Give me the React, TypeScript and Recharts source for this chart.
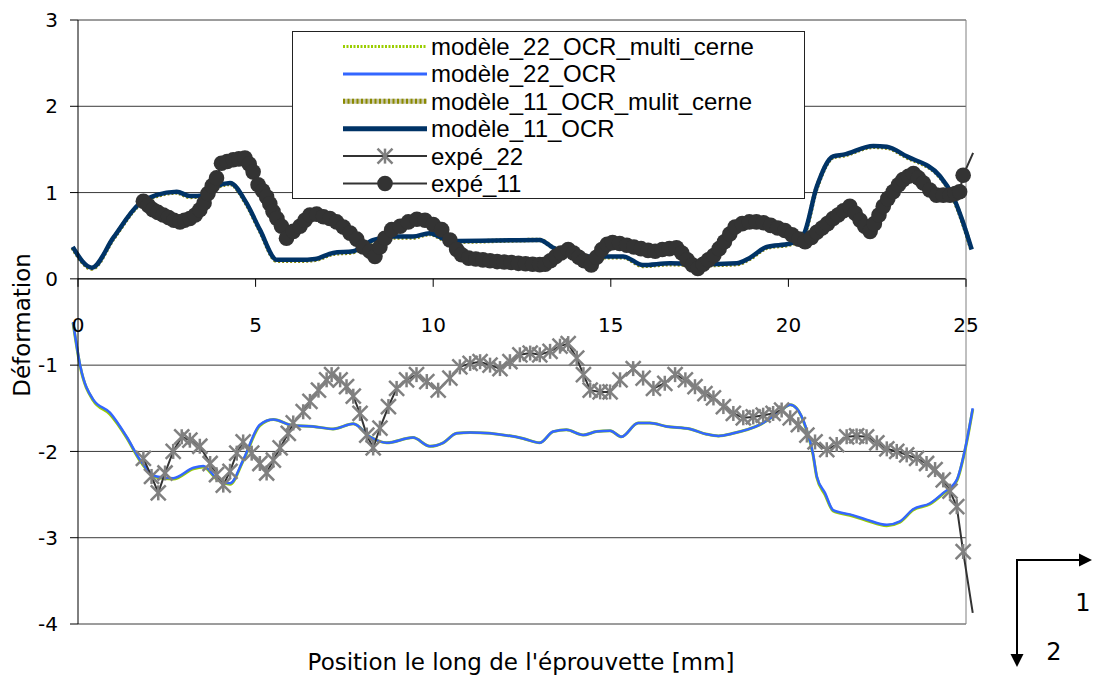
import React from 'react';
import { LineChart, Line, XAxis, YAxis, CartesianGrid, ReferenceLine, Legend, Customized } from 'recharts';

// ---------- data ----------
const xTicks = [0, 5, 10, 15, 20, 25];
const yTicks = [-4, -3, -2, -1, 0, 1, 2, 3];
const X_DOMAIN: [number, number] = [0, 25];
const Y_DOMAIN: [number, number] = [-4, 3];

const seriesNames = [
  'modèle_22_OCR_multi_cerne',
  'modèle_22_OCR',
  'modèle_11_OCR_mulit_cerne',
  'modèle_11_OCR',
  'expé_22',
  'expé_11',
];
const xTitle = "Position le long de l'éprouvette [mm]";
const yTitle = 'Déformation';
const dirLabels = ['1', '2'];

const modele22Multi: [number, number][] = [
  [-0.14, -0.51], [0.06, -1.01], [0.43, -1.41], [0.9, -1.57], [1.37, -1.84], [1.75, -2.11], [2.21, -2.30], [2.68, -2.32],
  [3.25, -2.20], [3.53, -2.18], [3.9, -2.32], [4.28, -2.38], [4.65, -2.11], [5.12, -1.70], [5.5, -1.63], [6.06, -1.70],
  [6.62, -1.71], [7.18, -1.74], [7.75, -1.68], [8.22, -1.83], [8.69, -1.90], [9.43, -1.84], [9.91, -1.94], [10.28, -1.90],
  [10.66, -1.79], [11.04, -1.78], [12.53, -1.85], [13.0, -1.90], [13.38, -1.77], [13.75, -1.75], [14.22, -1.81], [14.6, -1.77],
  [14.98, -1.76], [15.3, -1.83], [15.77, -1.67], [16.1, -1.67], [16.57, -1.71], [17.23, -1.74], [17.7, -1.80], [18.03, -1.82],
  [18.45, -1.79], [19.2, -1.69], [19.76, -1.54], [20.05, -1.46], [20.23, -1.50], [20.5, -1.74], [20.69, -2.03], [20.8, -2.30],
  [21.03, -2.50], [21.26, -2.69], [21.73, -2.74], [22.2, -2.80], [22.77, -2.86], [23.14, -2.82], [23.51, -2.68], [23.99, -2.61],
  [24.36, -2.49], [24.74, -2.34], [24.97, -1.99], [25.19, -1.51],
];

const modele22: [number, number][] = [
  [-0.14, -0.50], [0.06, -1.0], [0.43, -1.40], [0.9, -1.55], [1.37, -1.83], [1.75, -2.10], [2.21, -2.29], [2.68, -2.31],
  [3.25, -2.19], [3.53, -2.17], [3.9, -2.31], [4.28, -2.37], [4.65, -2.10], [5.12, -1.69], [5.5, -1.63], [6.06, -1.70],
  [6.62, -1.71], [7.18, -1.74], [7.75, -1.68], [8.22, -1.83], [8.69, -1.90], [9.43, -1.84], [9.91, -1.94], [10.28, -1.90],
  [10.66, -1.79], [11.04, -1.78], [12.53, -1.85], [13.0, -1.90], [13.38, -1.77], [13.75, -1.75], [14.22, -1.81], [14.6, -1.77],
  [14.98, -1.76], [15.3, -1.83], [15.77, -1.67], [16.1, -1.67], [16.57, -1.71], [17.23, -1.74], [17.7, -1.80], [18.03, -1.82],
  [18.45, -1.79], [19.2, -1.69], [19.76, -1.54], [20.05, -1.46], [20.23, -1.50], [20.5, -1.73], [20.69, -2.02], [20.8, -2.29],
  [21.03, -2.48], [21.26, -2.68], [21.73, -2.73], [22.2, -2.79], [22.77, -2.85], [23.14, -2.81], [23.51, -2.67], [23.99, -2.60],
  [24.36, -2.48], [24.74, -2.33], [24.97, -1.98], [25.19, -1.50],
];

const modele11Multi: [number, number][] = [
  [-0.15, 0.36], [0.39, 0.12], [1.0, 0.47], [1.7, 0.85], [2.2, 0.96], [2.78, 1.00], [3.15, 0.95], [3.58, 0.96],
  [3.9, 1.06], [4.28, 1.10], [4.74, 0.87], [5.12, 0.56], [5.6, 0.21], [6.25, 0.21], [6.67, 0.22], [7.18, 0.29],
  [7.75, 0.31], [8.3, 0.44], [8.87, 0.48], [9.43, 0.48], [9.9, 0.52], [10.47, 0.43], [13.0, 0.45], [13.38, 0.36],
  [14.4, 0.25], [15.35, 0.25], [15.9, 0.15], [16.67, 0.17], [17.5, 0.16], [18.54, 0.17], [18.9, 0.23], [19.39, 0.36],
  [20.05, 0.40], [20.42, 0.50], [20.8, 1.06], [21.26, 1.41], [21.55, 1.43], [22.39, 1.53], [22.77, 1.52], [23.33, 1.41],
  [24.27, 1.18], [24.64, 0.94], [24.92, 0.64], [25.16, 0.33],
];

const modele11: [number, number][] = [
  [-0.15, 0.37], [0.39, 0.13], [1.0, 0.48], [1.7, 0.86], [2.2, 0.97], [2.78, 1.01], [3.15, 0.96], [3.58, 0.97],
  [3.9, 1.07], [4.28, 1.11], [4.74, 0.88], [5.12, 0.57], [5.6, 0.22], [6.25, 0.22], [6.67, 0.23], [7.18, 0.30],
  [7.75, 0.32], [8.3, 0.45], [8.87, 0.49], [9.43, 0.49], [9.9, 0.53], [10.47, 0.44], [13.0, 0.45], [13.38, 0.36],
  [14.4, 0.26], [15.35, 0.26], [15.9, 0.16], [16.67, 0.18], [17.5, 0.17], [18.54, 0.18], [18.9, 0.24], [19.39, 0.37],
  [20.05, 0.41], [20.42, 0.51], [20.8, 1.07], [21.26, 1.42], [21.55, 1.44], [22.39, 1.54], [22.77, 1.53], [23.33, 1.42],
  [24.27, 1.19], [24.64, 0.95], [24.92, 0.65], [25.16, 0.34],
];

const expe22: [number, number][] = [
  [1.84, -2.08], [2.07, -2.29], [2.26, -2.48], [2.45, -2.25], [2.68, -2.0], [2.92, -1.83], [3.15, -1.87], [3.43, -1.94],
  [3.72, -2.14], [3.9, -2.27], [4.09, -2.39], [4.28, -2.23], [4.47, -2.02], [4.65, -1.89], [4.89, -2.02], [5.12, -2.14],
  [5.31, -2.25], [5.5, -2.10], [5.69, -1.96], [5.92, -1.79], [6.06, -1.67], [6.34, -1.54], [6.53, -1.42], [6.77, -1.29],
  [7.0, -1.17], [7.14, -1.11], [7.38, -1.17], [7.56, -1.25], [7.75, -1.36], [7.94, -1.56], [8.13, -1.81], [8.31, -1.96],
  [8.5, -1.73], [8.74, -1.48], [8.97, -1.27], [9.25, -1.17], [9.53, -1.11], [9.82, -1.19], [10.14, -1.29], [10.47, -1.15],
  [10.75, -1.02], [11.04, -0.98], [11.32, -0.96], [11.6, -1.0], [11.88, -1.04], [12.16, -0.96], [12.44, -0.88], [12.73, -0.86],
  [13.0, -0.88], [13.29, -0.84], [13.57, -0.78], [13.8, -0.75], [14.04, -0.92], [14.23, -1.11], [14.42, -1.29], [14.7, -1.31],
  [14.98, -1.31], [15.26, -1.17], [15.63, -1.04], [15.91, -1.15], [16.2, -1.27], [16.52, -1.21], [16.81, -1.11], [17.1, -1.17],
  [17.37, -1.25], [17.65, -1.33], [17.89, -1.38], [18.17, -1.48], [18.45, -1.56], [18.73, -1.61], [19.01, -1.60], [19.29, -1.58],
  [19.57, -1.56], [19.81, -1.52], [20.05, -1.61], [20.28, -1.69], [20.52, -1.81], [20.75, -1.89], [21.08, -1.98], [21.36, -1.92],
  [21.64, -1.83], [21.92, -1.82], [22.2, -1.83], [22.49, -1.90], [22.77, -1.97], [23.05, -2.0], [23.33, -2.04], [23.61, -2.08],
  [23.89, -2.14], [24.13, -2.21], [24.36, -2.33], [24.55, -2.46], [24.74, -2.64], [24.92, -3.16], [25.19, -3.87],
];

const expe11: [number, number][] = [
  [1.84, 0.90], [1.98, 0.85], [2.11, 0.80], [2.25, 0.77], [2.4, 0.74], [2.55, 0.71], [2.7, 0.68], [2.87, 0.66],
  [3.0, 0.68], [3.15, 0.70], [3.3, 0.74], [3.43, 0.80], [3.55, 0.88], [3.66, 0.99], [3.78, 1.08], [3.9, 1.17],
  [4.04, 1.34], [4.2, 1.36], [4.37, 1.38], [4.53, 1.39], [4.7, 1.40], [4.82, 1.33], [4.93, 1.24], [5.07, 1.09],
  [5.2, 1.02], [5.31, 0.95], [5.4, 0.87], [5.49, 0.78], [5.6, 0.70], [5.73, 0.61], [5.87, 0.47], [6.06, 0.55],
  [6.25, 0.61], [6.39, 0.68], [6.53, 0.74], [6.72, 0.75], [6.91, 0.72], [7.09, 0.70], [7.28, 0.66], [7.47, 0.60],
  [7.66, 0.53], [7.85, 0.46], [8.03, 0.37], [8.22, 0.32], [8.36, 0.26], [8.5, 0.37], [8.64, 0.47], [8.83, 0.57],
  [9.07, 0.61], [9.3, 0.66], [9.54, 0.69], [9.77, 0.68], [10.0, 0.63], [10.24, 0.57], [10.47, 0.45], [10.66, 0.34],
  [10.8, 0.28], [11.0, 0.24], [11.2, 0.23], [11.4, 0.22], [11.6, 0.21], [11.8, 0.20], [12.0, 0.195], [12.2, 0.19],
  [12.4, 0.18], [12.6, 0.175], [12.8, 0.17], [13.0, 0.165], [13.15, 0.17], [13.3, 0.21], [13.45, 0.26], [13.6, 0.30],
  [13.8, 0.34], [13.95, 0.30], [14.1, 0.25], [14.25, 0.21], [14.45, 0.16], [14.6, 0.25], [14.75, 0.34], [14.9, 0.40],
  [15.05, 0.42], [15.25, 0.41], [15.45, 0.39], [15.65, 0.37], [15.85, 0.35], [16.05, 0.33], [16.25, 0.32], [16.45, 0.34],
  [16.65, 0.35], [16.85, 0.36], [17.0, 0.30], [17.15, 0.22], [17.3, 0.16], [17.45, 0.12], [17.6, 0.17], [17.75, 0.22],
  [17.9, 0.27], [18.05, 0.35], [18.2, 0.43], [18.35, 0.52], [18.5, 0.60], [18.7, 0.64], [18.9, 0.66], [19.1, 0.66],
  [19.3, 0.65], [19.5, 0.62], [19.7, 0.59], [19.9, 0.56], [20.1, 0.51], [20.3, 0.46], [20.47, 0.43], [20.65, 0.48],
  [20.8, 0.54], [20.95, 0.59], [21.1, 0.64], [21.26, 0.70], [21.4, 0.74], [21.55, 0.79], [21.73, 0.84], [21.88, 0.76],
  [22.02, 0.68], [22.15, 0.61], [22.3, 0.55], [22.42, 0.64], [22.55, 0.74], [22.67, 0.84], [22.8, 0.93], [22.95, 1.01],
  [23.1, 1.09], [23.23, 1.15], [23.38, 1.19], [23.52, 1.22], [23.66, 1.17], [23.8, 1.11], [23.98, 1.03], [24.17, 0.97],
  [24.36, 0.97], [24.55, 0.97], [24.7, 0.99], [24.82, 1.01], [24.92, 1.20], [25.2, 1.46],
];

// ---------- layout / styles ----------
const W = 1093;
const H = 677;
const X_AXIS_H = 30;
const MARGIN = { top: 20, right: 127, bottom: 53 - X_AXIS_H, left: 18 };
const Y_AXIS_W = 60;
const PLOT_H = H - MARGIN.top - MARGIN.bottom - X_AXIS_H;
const ZERO_Y = MARGIN.top + (PLOT_H * (Y_DOMAIN[1] - 0)) / (Y_DOMAIN[1] - Y_DOMAIN[0]);
const AXIS_FONT = 'DejaVu Sans, Verdana, sans-serif';
const LEGEND_FONT = 'Liberation Sans, Arial, sans-serif';

const toPts = (arr: [number, number][]) => arr.map(([x, y]) => ({ x, y }));

const COLORS = {
  m22multi: '#9ACD00',
  m22: '#3366FF',
  m11multi: '#8A8A00',
  m11: '#003366',
  expLine: '#333333',
  star: '#808080',
  circle: '#333333',
};

const inRange = (v: number) => v >= X_DOMAIN[0] && v <= X_DOMAIN[1];

const StarDot = (props: any) => {
  const { cx, cy, payload, index } = props;
  if (!payload || !inRange(payload.x)) return <g key={`s${index}`} />;
  const s = 7.5;
  return (
    <g key={`s${index}`} stroke={COLORS.star} strokeWidth={2.5}>
      <line x1={cx - s} y1={cy - s} x2={cx + s} y2={cy + s} />
      <line x1={cx - s} y1={cy + s} x2={cx + s} y2={cy - s} />
      <line x1={cx} y1={cy - s} x2={cx} y2={cy + s} />
    </g>
  );
};

const CircleDot = (props: any) => {
  const { cx, cy, payload, index } = props;
  if (!payload || !inRange(payload.x)) return <g key={`c${index}`} />;
  return <circle key={`c${index}`} cx={cx} cy={cy} r={7.8} fill={COLORS.circle} />;
};

const XTick = (props: any) => {
  const { x, payload } = props;
  return (
    <g>
      <line x1={x} x2={x} y1={ZERO_Y} y2={ZERO_Y + 8} stroke="#000" strokeWidth={1} />
      <text x={x} y={ZERO_Y + 46} textAnchor="middle" dominantBaseline="central" fontFamily={AXIS_FONT} fontSize={20} fill="#000">
        {payload.value}
      </text>
    </g>
  );
};

const LegendBox = () => {
  const rowY = (i: number) => 15.5 + i * 27.4;
  const x1 = 51;
  const x2 = 135;
  const xm = (x1 + x2) / 2;
  return (
    <svg width={514} height={169} style={{ display: 'block' }}>
      <rect x={0.5} y={0.5} width={512} height={167} fill="#fff" stroke="#222" strokeWidth={1} />
      <line x1={x1} x2={x2} y1={rowY(0)} y2={rowY(0)} stroke={COLORS.m22multi} strokeWidth={3} strokeDasharray="2 1.5" />
      <line x1={x1} x2={x2} y1={rowY(1)} y2={rowY(1)} stroke={COLORS.m22} strokeWidth={3} />
      <line x1={x1} x2={x2} y1={rowY(2)} y2={rowY(2)} stroke="#C8C8A8" strokeWidth={5} />
      <line x1={x1} x2={x2} y1={rowY(2)} y2={rowY(2)} stroke={COLORS.m11multi} strokeWidth={5} strokeDasharray="2 2.5" />
      <line x1={x1} x2={x2} y1={rowY(3)} y2={rowY(3)} stroke={COLORS.m11} strokeWidth={5} />
      <line x1={x1} x2={x2} y1={rowY(4)} y2={rowY(4)} stroke={COLORS.expLine} strokeWidth={2} />
      <g stroke={COLORS.star} strokeWidth={2.5}>
        <line x1={xm - 7.5} y1={rowY(4) - 7.5} x2={xm + 7.5} y2={rowY(4) + 7.5} />
        <line x1={xm - 7.5} y1={rowY(4) + 7.5} x2={xm + 7.5} y2={rowY(4) - 7.5} />
        <line x1={xm} y1={rowY(4) - 7.5} x2={xm} y2={rowY(4) + 7.5} />
      </g>
      <line x1={x1} x2={x2} y1={rowY(5)} y2={rowY(5)} stroke={COLORS.expLine} strokeWidth={2} />
      <circle cx={xm} cy={rowY(5)} r={7.8} fill={COLORS.circle} />
      {seriesNames.map((n, i) => (
        <text key={n} x={139} y={rowY(i)} dominantBaseline="central" fontFamily={LEGEND_FONT} fontSize={24} fill="#000">
          {n}
        </text>
      ))}
    </svg>
  );
};

const Overlay = () => (
  <g>
    <text x={22} y={325} transform="rotate(-90 22 325)" textAnchor="middle" dominantBaseline="central" fontFamily={AXIS_FONT} fontSize={23} fill="#000">
      {yTitle}
    </text>
    <text x={521} y={662} textAnchor="middle" dominantBaseline="central" fontFamily={AXIS_FONT} fontSize={23} fill="#000">
      {xTitle}
    </text>
    <g stroke="#000" strokeWidth={2} fill="none">
      <line x1={1017} y1={560} x2={1081} y2={560} />
      <line x1={1017} y1={559} x2={1017} y2={655} />
    </g>
    <polygon points="1092,560 1079,553.5 1079,566.5" fill="#000" />
    <polygon points="1017,667 1010.5,654 1023.5,654" fill="#000" />
    <text x={1083} y={603} textAnchor="middle" dominantBaseline="central" fontFamily={AXIS_FONT} fontSize={24} fill="#000">
      {dirLabels[0]}
    </text>
    <text x={1054} y={652} textAnchor="middle" dominantBaseline="central" fontFamily={AXIS_FONT} fontSize={24} fill="#000">
      {dirLabels[1]}
    </text>
  </g>
);

export default function App() {
  return (
    <div style={{ position: 'absolute', left: 0, top: 0, width: W, height: H, background: '#fff' }}>
      <style>{`svg [clip-path]{clip-path:none !important;}`}</style>
      <LineChart width={W} height={H} margin={MARGIN}>
        <CartesianGrid horizontal vertical={false} stroke="#3a3a3a" strokeWidth={1} />
        <XAxis
          type="number"
          dataKey="x"
          domain={X_DOMAIN}
          ticks={xTicks}
          allowDataOverflow
          height={X_AXIS_H}
          axisLine={false}
          tickLine={false}
          tick={<XTick />}
          interval={0}
        />
        <YAxis
          type="number"
          dataKey="y"
          domain={Y_DOMAIN}
          ticks={yTicks}
          width={Y_AXIS_W}
          axisLine={{ stroke: '#000', strokeWidth: 1 }}
          tickLine={{ stroke: '#000', strokeWidth: 1 }}
          tickSize={8}
          tickMargin={12}
          interval={0}
          tick={{ fontFamily: AXIS_FONT, fontSize: 20, fill: '#000' }}
        />
        <ReferenceLine y={0} stroke="#000" strokeWidth={1} />
        <ReferenceLine x={25} stroke="#808080" strokeWidth={1} />
        <Line data={toPts(modele22Multi)} dataKey="y" name={seriesNames[0]} type="monotone" stroke={COLORS.m22multi} strokeWidth={3} dot={false} isAnimationActive={false} />
        <Line data={toPts(modele22)} dataKey="y" name={seriesNames[1]} type="monotone" stroke={COLORS.m22} strokeWidth={2.5} dot={false} isAnimationActive={false} />
        <Line data={toPts(modele11Multi)} dataKey="y" name={seriesNames[2]} type="monotone" stroke={COLORS.m11multi} strokeWidth={4.5} strokeDasharray="2 2" dot={false} isAnimationActive={false} />
        <Line data={toPts(modele11)} dataKey="y" name={seriesNames[3]} type="monotone" stroke={COLORS.m11} strokeWidth={4.5} dot={false} isAnimationActive={false} />
        <Line data={toPts(expe22)} dataKey="y" name={seriesNames[4]} type="linear" stroke={COLORS.expLine} strokeWidth={2} dot={<StarDot />} isAnimationActive={false} />
        <Line data={toPts(expe11)} dataKey="y" name={seriesNames[5]} type="linear" stroke={COLORS.expLine} strokeWidth={2} dot={<CircleDot />} isAnimationActive={false} />
        <Legend
          layout="vertical"
          align="center"
          verticalAlign="middle"
          width={514}
          height={169}
          wrapperStyle={{ left: 292, top: 31, width: 514, height: 169 }}
          content={<LegendBox />}
        />
        <Customized component={Overlay} />
      </LineChart>
    </div>
  );
}
